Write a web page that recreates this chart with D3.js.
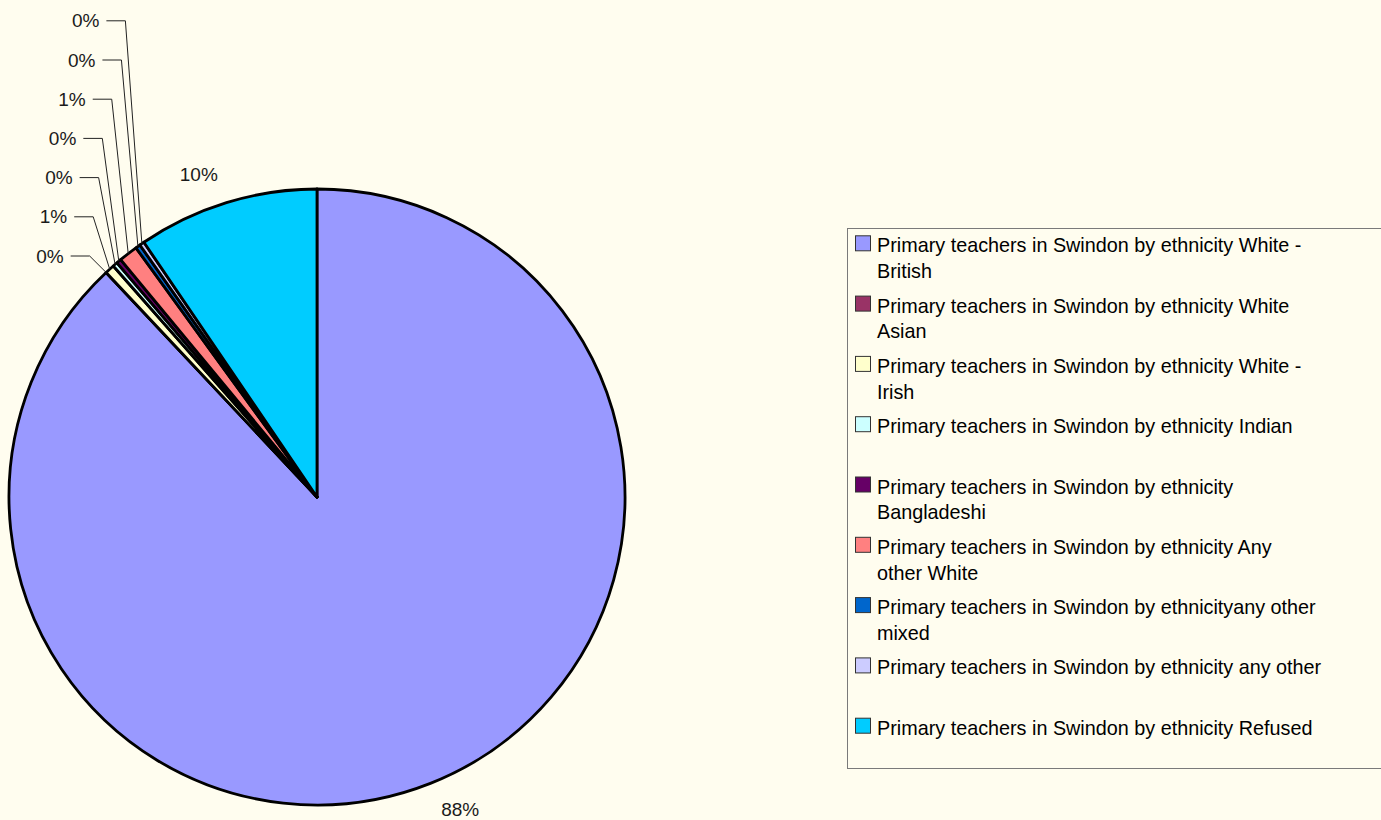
<!DOCTYPE html>
<html>
<head>
<meta charset="utf-8">
<script src="https://cdn.jsdelivr.net/npm/d3@7"></script>
<style>
  body { margin: 0; background: #FFFDEF; }
  text { font-family: Arial, "Liberation Sans", sans-serif; }
</style>
</head>
<body>
<svg id="chart" width="1381" height="820"></svg>
<script>
// Primary teachers in Swindon, head count by ethnicity
const categories = [
  "Primary teachers in Swindon by ethnicity White - British",
  "Primary teachers in Swindon by ethnicity White Asian",
  "Primary teachers in Swindon by ethnicity White - Irish",
  "Primary teachers in Swindon by ethnicity Indian",
  "Primary teachers in Swindon by ethnicity Bangladeshi",
  "Primary teachers in Swindon by ethnicity Any other White",
  "Primary teachers in Swindon by ethnicityany other mixed",
  "Primary teachers in Swindon by ethnicity any other",
  "Primary teachers in Swindon by ethnicity Refused"
];
const teachers = [352, 0, 2, 1, 1, 4, 1, 1, 38];
const sliceColors = ["#9999FF", "#993366", "#FFFFCC", "#CCFFFF", "#660066",
                     "#FF8080", "#0066CC", "#CCCCFF", "#00CCFF"];
// words kept on the first legend line before wrapping
const legendFirstLineWords = [8, 7, 8, 99, 6, 7, 7, 99, 99];

const svg = d3.select("#chart");
const cx = 317, cy = 497, R = 308;
const total = d3.sum(teachers);
const pct = v => Math.round(v * 100 / total);

const pie = d3.pie().sort(null).value(d => d)(teachers);
const arc = d3.arc().innerRadius(0).outerRadius(R);

const g = svg.append("g").attr("transform", `translate(${cx},${cy})`);
g.selectAll("path.slice")
  .data(pie)
  .join("path")
  .attr("class", "slice")
  .attr("d", arc)
  .attr("fill", (d, i) => sliceColors[i])
  .attr("stroke", "#000")
  .attr("stroke-width", 2.8)
  .attr("stroke-linejoin", "round");

const polar = (a, r) => [cx + r * Math.sin(a), cy - r * Math.cos(a)];
const mid = d => (d.startAngle + d.endAngle) / 2;

// big slices: label just outside the rim
const labels = svg.append("g").attr("font-size", 19).attr("fill", "#1a1a1a");
pie.forEach((d, i) => {
  const share = d.value / total;
  if (share >= 0.03) {
    const [x, y] = polar(mid(d) - 3 * Math.PI / 180, 344);
    labels.append("text")
      .attr("x", x).attr("y", y).attr("dy", "0.35em")
      .attr("text-anchor", "middle")
      .text(pct(d.value) + "%");
  }
});

// thin slices: stacked labels with leader lines
const small = pie.map((d, i) => ({ d, i })).filter(o => o.d.value / total < 0.03);
const leaders = svg.append("g").attr("stroke", "#222").attr("stroke-width", 1).attr("fill", "none");
small.forEach((o, k) => {
  const [ax, ay] = polar(mid(o.d), R);
  const ly = 256 - 39.2 * k;
  const ex = ax - 16.5;
  leaders.append("polyline")
    .attr("points", `${ex - 19},${ly} ${ex},${ly} ${ax},${ay}`);
  labels.append("text")
    .attr("x", ex - 26).attr("y", ly).attr("dy", "0.35em")
    .attr("text-anchor", "end")
    .text(pct(o.d.value) + "%");
});

// legend
const legend = svg.append("g");
legend.append("rect")
  .attr("x", 847.5).attr("y", 228.5)
  .attr("width", 560).attr("height", 540)
  .attr("fill", "#FFFDEF").attr("stroke", "#7a7a7a").attr("stroke-width", 1);

const rowH = 60.3, base0 = 252.3;
categories.forEach((name, i) => {
  const by = base0 + i * rowH;
  legend.append("rect")
    .attr("x", 855.5).attr("y", by - 16.5)
    .attr("width", 15).attr("height", 15)
    .attr("fill", sliceColors[i])
    .attr("stroke", "#333").attr("stroke-width", 1);
  const words = name.split(" ");
  const n = legendFirstLineWords[i];
  const lines = [words.slice(0, n).join(" ")];
  if (words.length > n) lines.push(words.slice(n).join(" "));
  const t = legend.append("text")
    .attr("x", 877).attr("y", by)
    .attr("font-size", 19.8).attr("fill", "#000");
  lines.forEach((ln, j) => {
    t.append("tspan").attr("x", 877).attr("y", by + j * 25.8).text(ln);
  });
});
</script>
</body>
</html>
